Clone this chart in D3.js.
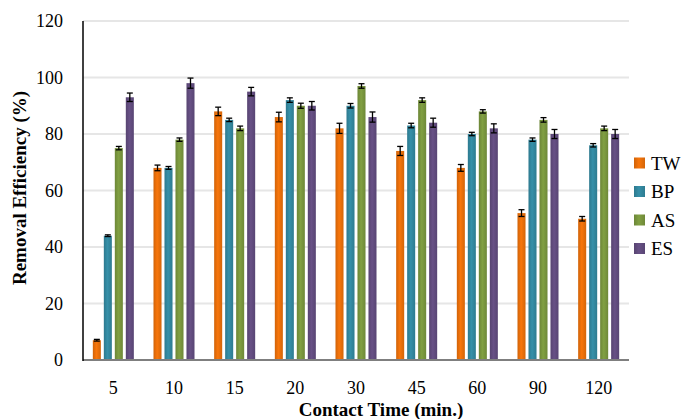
<!DOCTYPE html>
<html>
<head>
<meta charset="utf-8">
<script src="https://cdn.jsdelivr.net/npm/d3@7"></script>
<style>
  html, body { margin: 0; padding: 0; background: #fff; }
  svg { display: block; }
  svg text { font-family: "Liberation Serif", "Times New Roman", Times, "DejaVu Serif", serif; }
</style>
</head>
<body>
<svg id="chart" width="682" height="419"></svg>
<script>
const categories = ["5", "10", "15", "20", "30", "45", "60", "90", "120"];
const seriesNames = ["TW", "BP", "AS", "ES"];
const TW = [7, 68, 88, 86, 82, 74, 68, 52, 50];
const BP = [44, 68, 85, 92, 90, 83, 80, 78, 76];
const AS = [75, 78, 82, 90, 97, 92, 88, 85, 82];
const ES = [93, 98, 95, 90, 86, 84, 82, 80, 80];
const TW_err = [0.3, 1.0, 1.5, 1.7, 1.8, 1.6, 1.2, 1.2, 0.8];
const BP_err = [0.3, 0.5, 0.6, 0.8, 0.8, 0.8, 0.6, 0.6, 0.6];
const AS_err = [0.6, 0.6, 0.8, 0.9, 0.8, 0.8, 0.6, 0.8, 0.8];
const ES_err = [1.5, 1.8, 1.5, 1.5, 1.8, 1.6, 1.6, 1.6, 1.6];
const yTicks = [0, 20, 40, 60, 80, 100, 120];
const colors = ["#e36c0a", "#31849b", "#76923c", "#5f4a7b"];

(function () {
const values = [TW, BP, AS, ES];
const errors = [TW_err, BP_err, AS_err, ES_err];
const FONT = "'Liberation Serif', 'Times New Roman', Times, 'DejaVu Serif', serif";

const svg = d3.select("#chart");
const pLeft = 83, pRight = 629, pTop = 21, pBottom = 360;

const x0 = d3.scaleBand().domain(categories).range([pLeft, pRight])
  .paddingInner(0.324).paddingOuter(0.162);
const x1 = d3.scaleBand().domain(seriesNames).range([0, x0.bandwidth()])
  .paddingInner(0.27).paddingOuter(0);
const y = d3.scaleLinear().domain([0, 120]).range([pBottom, pTop]);

// gradients
const defs = svg.append("defs");
colors.forEach((c, i) => {
  const g = defs.append("linearGradient").attr("id", "grad" + i)
    .attr("x1", "0%").attr("x2", "100%").attr("y1", "0%").attr("y2", "0%");
  const base = d3.color(c);
  g.append("stop").attr("offset", "0%").attr("stop-color", base.darker(0.25));
  g.append("stop").attr("offset", "45%").attr("stop-color", base.brighter(0.25));
  g.append("stop").attr("offset", "100%").attr("stop-color", base.darker(0.2));
});

// gridlines
svg.append("g").selectAll("line").data(yTicks.filter(d => d > 0)).join("line")
  .attr("x1", pLeft).attr("x2", pRight)
  .attr("y1", d => y(d)).attr("y2", d => y(d))
  .attr("stroke", "#e6e6e6").attr("stroke-width", 2);

// bars
const groups = svg.append("g").selectAll("g").data(categories).join("g")
  .attr("transform", d => `translate(${x0(d)},0)`);

seriesNames.forEach((s, si) => {
  groups.append("rect")
    .attr("x", x1(s))
    .attr("width", x1.bandwidth())
    .attr("y", (d, ci) => y(values[si][ci]))
    .attr("height", (d, ci) => pBottom - y(values[si][ci]))
    .attr("fill", `url(#grad${si})`);
});

// error bars
seriesNames.forEach((s, si) => {
  const cx = x1(s) + x1.bandwidth() / 2;
  groups.append("line")
    .attr("x1", cx).attr("x2", cx)
    .attr("y1", (d, ci) => y(values[si][ci] + errors[si][ci]))
    .attr("y2", (d, ci) => y(values[si][ci] - errors[si][ci]))
    .attr("stroke", "#000").attr("stroke-width", 1.3);
  [1, -1].forEach(sign => {
    groups.append("line")
      .attr("x1", cx - 3).attr("x2", cx + 3)
      .attr("y1", (d, ci) => y(values[si][ci] + sign * errors[si][ci]))
      .attr("y2", (d, ci) => y(values[si][ci] + sign * errors[si][ci]))
      .attr("stroke", "#000").attr("stroke-width", 1.3);
  });
});

// axes lines
svg.append("line").attr("x1", pLeft).attr("x2", pRight).attr("y1", pBottom).attr("y2", pBottom)
  .attr("stroke", "#7f7f7f").attr("stroke-width", 2);
svg.append("line").attr("x1", pLeft).attr("x2", pLeft).attr("y1", pTop).attr("y2", pBottom + 1)
  .attr("stroke", "#000").attr("stroke-width", 1.5);

// y tick labels
svg.append("g").selectAll("text").data(yTicks).join("text")
  .attr("x", 63).attr("y", d => y(d))
  .attr("text-anchor", "end").attr("dominant-baseline", "central")
  .attr("font-family", FONT)
  .attr("font-size", 18).attr("fill", "#000")
  .text(d => d);

// x tick labels
svg.append("g").selectAll("text").data(categories).join("text")
  .attr("x", d => x0(d) + x0.bandwidth() / 2).attr("y", 394)
  .attr("text-anchor", "middle")
  .attr("font-family", FONT)
  .attr("font-size", 18).attr("fill", "#000")
  .text(d => d);

// axis titles
svg.append("text").attr("x", 381).attr("y", 416)
  .attr("text-anchor", "middle").attr("font-size", 19).attr("font-weight", "bold")
  .attr("font-family", FONT)
  .text("Contact Time (min.)");
svg.append("text").attr("transform", "translate(26,188) rotate(-90)")
  .attr("text-anchor", "middle").attr("font-size", 19).attr("font-weight", "bold")
  .attr("font-family", FONT)
  .text("Removal Efficiency (%)");

// legend
const legend = svg.append("g").selectAll("g").data(seriesNames).join("g")
  .attr("transform", (d, i) => `translate(634,${163 + i * 28.5})`);
legend.append("rect").attr("x", 0).attr("y", -5.5).attr("width", 11).attr("height", 11)
  .attr("fill", (d, i) => `url(#grad${i})`);
legend.append("text").attr("x", 17).attr("y", 0).attr("dominant-baseline", "central")
  .attr("font-family", FONT)
  .attr("font-size", 19).text(d => d);
})();
</script>
</body>
</html>
